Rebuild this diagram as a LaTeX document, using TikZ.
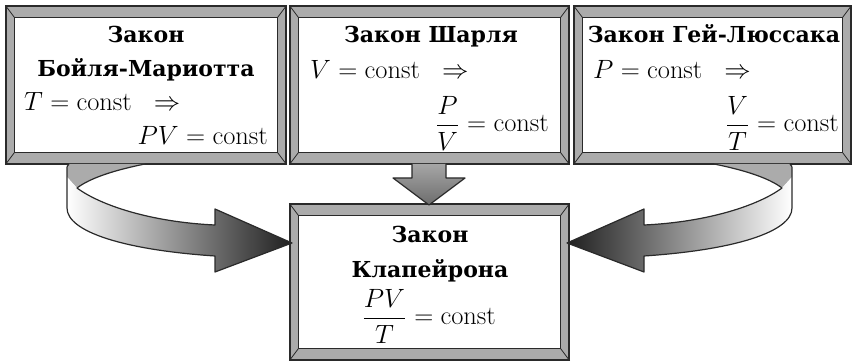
\RequirePackage{fix-cm}
\documentclass[tikz,border=0pt]{standalone}
\usepackage[no-math]{fontspec}
\usepackage{graphicx}
\usetikzlibrary{calc}
\newfontfamily\titlefont{DejaVu Serif}
\definecolor{bevelgray}{HTML}{ABABAB}
\definecolor{edge}{HTML}{2A2A2A}
\newcommand\lawmath[1]{\scalebox{1.53}{\fontsize{17.28}{24}\selectfont$#1$}}
\tikzset{
  frameline/.style={draw=edge, line width=1.4pt},
  diagline/.style={draw=edge, line width=0.8pt},
  lawbox/.style={rectangle, draw=edge, line width=1.4pt, fill=bevelgray, inner sep=0pt},
  ttl/.style={inner sep=0pt, anchor=base, font=\titlefont\bfseries\fontsize{22}{30}\selectfont},
  mth/.style={inner sep=0pt},
  ribbonline/.style={draw=edge, line width=1.2pt, line join=round},
}
\newcommand\lawframe[5]{%
  \node[lawbox, minimum width={(#4-#2)*1pt}, minimum height={(#5-#3)*1pt}] (#1) at ({(#2+#4)/2},{(#3+#5)/2}) {};
  \coordinate (#1-a) at ($(#1.north west)+(9,12)$);
  \coordinate (#1-b) at ($(#1.north east)+(-9,12)$);
  \coordinate (#1-c) at ($(#1.south east)+(-9,-12)$);
  \coordinate (#1-d) at ($(#1.south west)+(9,-12)$);
  \draw[diagline] (#1.north west) -- (#1-a) (#1.north east) -- (#1-b)
                  (#1.south east) -- (#1-c) (#1.south west) -- (#1-d);
  \draw[frameline, fill=white] (#1-a) -- (#1-b) -- (#1-c) -- (#1-d) -- cycle;
}
\newcommand\ribbon[1]{%
  \fill[bevelgray] (69,164) -- (145,164) .. controls (115,170) and (90,178) .. (77,188)
     -- (67,177) -- (67,170) .. controls (67,166) .. (69,164) -- cycle;
  \shade[#1]
     (67,177) -- (77,188) .. controls (100,205) and (150,222) .. (215,225)
     -- (215,209) -- (292,243) -- (215,272) -- (215,256)
     .. controls (125,250) and (67,232) .. (67,208) -- cycle;
  \draw[ribbonline] (145,164) .. controls (115,170) and (90,178) .. (77,188)
     .. controls (100,205) and (150,222) .. (215,225)
     -- (215,209) -- (292,243) -- (215,272) -- (215,256)
     .. controls (125,250) and (67,232) .. (67,208) -- (67,170) .. controls (67,166) .. (69,164);
}
\begin{document}
\begin{tikzpicture}[x=1pt, y=-1pt]
\useasboundingbox (0,0) rectangle (852,363);
% boxes
\lawframe{b1}{6}{6}{286}{164}
\lawframe{b2}{290}{6}{569}{164}
\lawframe{b3}{574}{6}{851}{164}
\lawframe{b4}{290}{204}{569}{360}
% box 1
\node[ttl] (t1a) at (146,43) {Закон};
\node[ttl] (t1b) at (146,77) {Бойля-Мариотта};
\node[mth, anchor=base west] (t1c) at (24,111) {\lawmath{T=\mathrm{const}\;\;\Rightarrow}};
\node[mth, anchor=base east] (t1d) at (268,145) {\lawmath{PV=\mathrm{const}}};
% box 2
\node[ttl] (t2a) at (431,43) {Закон Шарля};
\node[mth, anchor=base west] (t2c) at (310,79) {\lawmath{V=\mathrm{const}\;\;\Rightarrow}};
\node[mth, anchor=base east] (t2d) at (549,132) {\lawmath{\displaystyle\frac{P}{V}=\mathrm{const}}};
% box 3
\node[ttl] (t3a) at (714,43) {Закон Гей-Люссака};
\node[mth, anchor=base west] (t3c) at (593,79) {\lawmath{P=\mathrm{const}\;\;\Rightarrow}};
\node[mth, anchor=base east] (t3d) at (839,132) {\lawmath{\displaystyle\frac{V}{T}=\mathrm{const}}};
% box 4
\node[ttl] (t4a) at (430,243) {Закон};
\node[ttl] (t4b) at (430,278) {Клапейрона};
\node[mth, anchor=base] (t4c) at (429,325) {\lawmath{\displaystyle\frac{PV}{T}=\mathrm{const}}};
% middle arrow
\shade[top color=gray!70, middle color=white, bottom color=gray!85!black]
  (412,164) -- (412,178) -- (393,178) -- (429,205) -- (465,178) -- (446,178) -- (446,164) -- cycle;
\draw[ribbonline] (412,164) -- (412,178) -- (393,178) -- (429,205) -- (465,178) -- (446,178) -- (446,164);
% left ribbon arrow
\ribbon{left color=white, right color=black!88}
% right ribbon arrow (mirror)
\begin{scope}[shift={(859,0)}, xscale=-1]
\ribbon{left color=black!88, right color=white}
\end{scope}
\end{tikzpicture}
\end{document}
